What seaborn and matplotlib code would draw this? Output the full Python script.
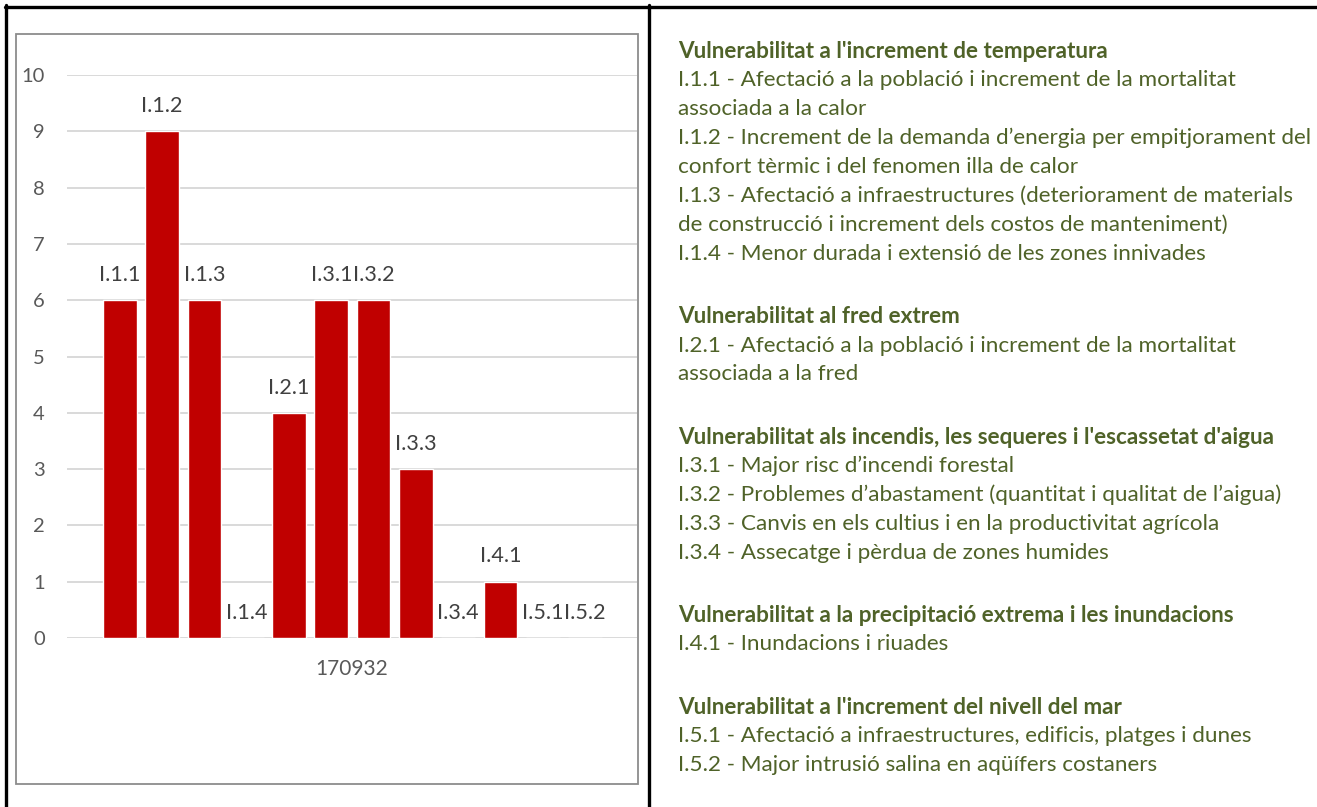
import matplotlib
matplotlib.use("Agg")
import matplotlib.pyplot as plt
from matplotlib.lines import Line2D
from matplotlib.patches import Rectangle
import seaborn as sns

# indicator codes and their scores (single category "170932")
codes = ["I.1.1", "I.1.2", "I.1.3", "I.1.4", "I.2.1", "I.3.1",
         "I.3.2", "I.3.3", "I.3.4", "I.4.1", "I.5.1", "I.5.2"]
scores = [6, 9, 6, 0, 4, 6, 6, 3, 0, 1, 0, 0]
category = "170932"
yticks = [0, 1, 2, 3, 4, 5, 6, 7, 8, 9, 10]

# legend text on the right: (text, bold); "" means blank line
legend_lines = [
    ("Vulnerabilitat a l'increment de temperatura", True),
    ("I.1.1 - Afectació a la població i increment de la mortalitat", False),
    ("associada a la calor", False),
    ("I.1.2 - Increment de la demanda d\u2019energia per empitjorament del", False),
    ("confort tèrmic i del fenomen illa de calor", False),
    ("I.1.3 - Afectació a infraestructures (deteriorament de materials", False),
    ("de construcció i increment dels costos de manteniment)", False),
    ("I.1.4 - Menor durada i extensió de les zones innivades", False),
    ("", False),
    ("Vulnerabilitat al fred extrem", True),
    ("I.2.1 - Afectació a la població i increment de la mortalitat", False),
    ("associada a la fred", False),
    ("", False),
    ("Vulnerabilitat als incendis, les sequeres i l'escassetat d'aigua", True),
    ("I.3.1 - Major risc d\u2019incendi forestal", False),
    ("I.3.2 - Problemes d\u2019abastament (quantitat i qualitat de l\u2019aigua)", False),
    ("I.3.3 - Canvis en els cultius i en la productivitat agrícola", False),
    ("I.3.4 - Assecatge i pèrdua de zones humides", False),
    ("", False),
    ("Vulnerabilitat a la precipitació extrema i les inundacions", True),
    ("I.4.1 - Inundacions i riuades", False),
    ("", False),
    ("Vulnerabilitat a l'increment del nivell del mar", True),
    ("I.5.1 - Afectació a infraestructures, edificis, platges i dunes", False),
    ("I.5.2 - Major intrusió salina en aqüífers costaners", False),
]

sns.set_theme(style="white")
plt.rcParams["font.family"] = ["Lato", "DejaVu Sans"]

W, H = 1317, 807
fig = plt.figure(figsize=(W / 100, H / 100), dpi=100)
fig.patch.set_facecolor("white")


def fx(px):
    return px / W


def fy(py):
    return 1 - py / H


# table borders
for x0, y0, x1, y1 in [(5, 7, 1317, 7), (6, 5, 6, 807), (649, 5, 649, 807)]:
    fig.add_artist(Line2D([fx(x0), fx(x1)], [fy(y0), fy(y1)], color="black",
                          lw=2.4, transform=fig.transFigure))

# chart frame
fig.add_artist(Rectangle((fx(16), fy(784)), fx(638) - fx(16), fy(34) - fy(784),
                         fill=False, edgecolor="#8c8c8c", lw=1.3,
                         transform=fig.transFigure))

ax = fig.add_axes([fx(67), fy(638), fx(637) - fx(67), fy(75) - fy(638)])
sns.barplot(x=codes, y=scores, color="#c00000", saturation=1, width=0.8, ax=ax)
ax.set_xlim(-1.25, 12.23)
ax.set_ylim(0, 10)
ax.set_yticks(yticks)
ax.set_yticklabels([str(t) for t in yticks])
ax.tick_params(axis="y", length=0, pad=16, labelsize=14.5, labelcolor="#595959")
ax.set_xticks([])
ax.set_xlabel(category, fontsize=15, color="#595959", labelpad=15)
ax.set_ylabel("")
ax.yaxis.grid(True, color="#d9d9d9", lw=1.4)
ax.set_axisbelow(True)
for s in ax.spines.values():
    s.set_visible(False)
ax.patch.set_alpha(0)

ax.bar_label(ax.containers[0], labels=codes, padding=11, fontsize=15.5,
             color="#404040")

# right-hand description
y = 51
for text, bold in legend_lines:
    if text == "":
        y += 33.5
        continue
    fig.text(fx(678), fy(y), text, fontsize=16.2, color="#4f6228",
             fontweight="bold" if bold else "normal", ha="left", va="center")
    y += 29.0

fig.savefig("out.png", dpi=100)
